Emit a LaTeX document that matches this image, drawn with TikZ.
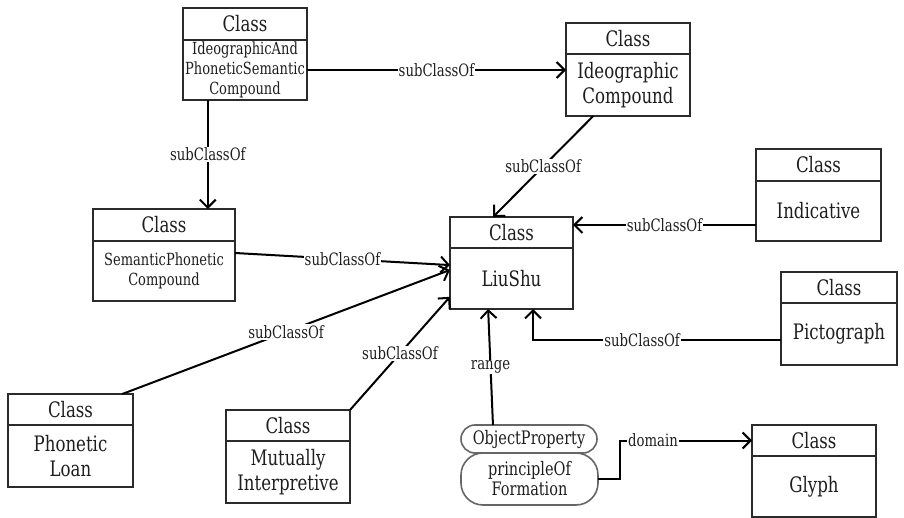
\documentclass[tikz,border=0pt]{standalone}
\usepackage{fontspec}
\setmainfont{DejaVu Serif}[FakeStretch=0.78]
\newfontfamily\tnr{DejaVu Serif}[FakeStretch=0.78]
\usetikzlibrary{arrows.meta,calc}
\definecolor{boxc}{HTML}{2B2B2B}
\definecolor{pillc}{HTML}{666666}
\definecolor{txtc}{HTML}{1E1E1E}
\newcommand\classbox[8]{%
  \node[hdr, anchor=north west, minimum width=#4, minimum height=#5] (#1h) at (#2,#3) {Class};
  \node[#7, anchor=north west, minimum width=#4, minimum height=#6] (#1) at (#1h.south west) {#8};
}
\begin{document}
\begin{tikzpicture}[x=1pt,y=-1pt,
  box/.style={draw=boxc, line width=2pt, fill=white, inner sep=0pt, outer sep=0pt, align=center, text=txtc},
  hdr/.style={box, font=\tnr\fontsize{21.3}{25}\selectfont},
  bodyL/.style={box, font=\tnr\fontsize{21.3}{25}\selectfont},
  bodyS/.style={box, font=\tnr\fontsize{16.7}{20}\selectfont},
  pill/.style={draw=pillc, line width=1.6pt, fill=white, align=center, inner sep=0pt, outer sep=0pt, text=txtc, font=\tnr\fontsize{18.6}{20}\selectfont},
  conn/.style={line width=2pt, -{Straight Barb[length=8pt,width=16pt,line width=2pt]}},
  lbl/.style={fill=white, inner sep=1pt, text=txtc, font=\tnr\fontsize{17}{18}\selectfont},
]
\fill[white] (0,0) rectangle (904,518);
\useasboundingbox (0,0) rectangle (904,518);

\classbox{ipc}{183}{8}{124}{32}{60}{bodyS}{IdeographicAnd\\PhoneticSemantic\\Compound}
\classbox{ic}{566}{23}{124}{31}{62}{bodyL}{Ideographic\\Compound}
\classbox{ind}{756}{149}{125}{32}{60}{bodyL}{Indicative}
\classbox{spc}{93}{209}{142}{32}{60}{bodyS}{SemanticPhonetic\\Compound}
\classbox{liu}{450}{217}{123}{31}{61}{bodyL}{LiuShu}
\classbox{pic}{781}{272}{116}{31}{62}{bodyL}{Pictograph}
\classbox{pl}{8}{394}{125}{31}{62}{bodyL}{Phonetic\\Loan}
\classbox{mi}{226}{410}{124}{31}{62}{bodyL}{Mutually\\Interpretive}
\classbox{gly}{752}{425}{124}{31}{61}{bodyL}{Glyph}

\node[pill, minimum width=136, minimum height=28, rounded corners=14pt, anchor=north west] (op) at (461,425) {ObjectProperty};
\node[pill, minimum width=137, minimum height=52, rounded corners=22pt, anchor=north west] (pf) at (461,453) {principleOf\\Formation};

% connectors
\draw[conn] (ipc.east) -- node[lbl]{subClassOf} (ipc.east -| ic.west);
\coordinate (a2) at ($(ipc.south west)!0.2!(ipc.south east)$);
\draw[conn] (a2) -- node[lbl]{subClassOf} (a2 |- spch.north);
\draw[conn] ($(ic.south west)!0.22!(ic.south east)$) -- node[lbl]{subClassOf} ($(liuh.north west)!0.35!(liuh.north east)$);
\coordinate (a4) at ($(ind.north west)!0.733!(ind.south west)$);
\draw[conn] (a4) -- node[lbl]{subClassOf} (a4 -| liuh.east);
\draw[conn] ($(spc.north east)!0.2!(spc.south east)$) -- node[lbl]{subClassOf} ($(liu.north west)!0.28!(liu.south west)$);
\draw[conn] ($(plh.north west)!0.914!(plh.north east)$) -- node[lbl]{subClassOf} ($(liu.north west)!0.36!(liu.south west)$);
\draw[conn] (mih.north east) -- node[lbl]{subClassOf} ($(liu.north west)!0.80!(liu.south west)$);
\draw[conn] ($(op.north west)!0.235!(op.north east)$) -- node[lbl]{range} ($(liu.south west)!0.31!(liu.south east)$);
\draw[conn] ($(pic.north west)!0.6!(pic.south west)$) -| node[lbl,pos=0.28]{subClassOf} ($(liu.south west)!0.675!(liu.south east)$);
\draw[conn] (pf.east) -- ++(22,0) |- node[lbl,pos=0.625]{domain} ($(glyh.north west)!0.5!(glyh.south west)$);
\end{tikzpicture}
\end{document}
